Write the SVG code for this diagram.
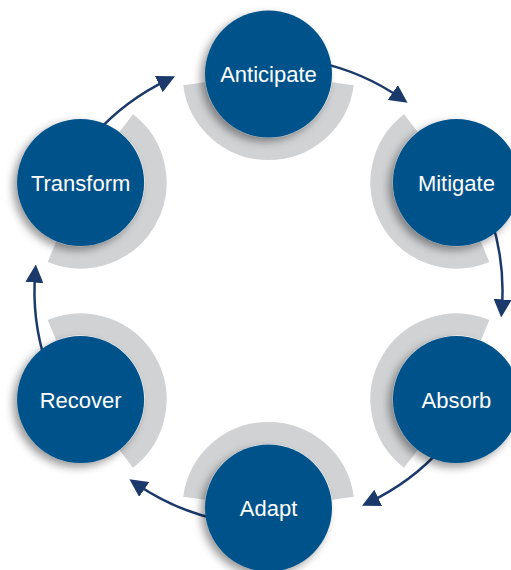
<svg xmlns="http://www.w3.org/2000/svg" width="511" height="570" viewBox="0 0 511 570">
  <style>
    .band { fill: none; stroke: #d1d2d4; stroke-width: 22; stroke-linecap: butt; }
    .disc { fill: #06538a; filter: url(#shadow); }
    .label { fill: #ffffff; font-family: "Liberation Sans", Arial, sans-serif; font-size: 22px; text-anchor: middle; }
    .link { fill: none; stroke: #1b3a6b; stroke-width: 2.5; marker-end: url(#head); }
  </style>
  <defs>
    <filter id="shadow" x="-30%" y="-30%" width="160%" height="160%">
      <feDropShadow dx="-4" dy="4" stdDeviation="4" flood-color="#000" flood-opacity="0.4"/>
    </filter>
    <marker id="head" markerUnits="userSpaceOnUse" markerWidth="18" markerHeight="18" viewBox="0 0 18 18" refX="10" refY="9" orient="auto">
      <path d="M0,0 L18,9 L0,18 Z" fill="#1b3a6b"/>
    </marker>
    <!-- inner half-ring behind each disc, pointing down before rotation -->
    <path id="ring" d="M74.36,9.79 A75,75 0 0 1 -74.36,9.79"/>
  </defs>

  <g id="connectors">
    <path class="link" d="M317.15,62.1 A234,234 0 0 1 401.0,98.2"/>
    <path class="link" d="M491.1,218.7 A234,234 0 0 1 501.8,309.4"/>
    <path class="link" d="M442.4,447.6 A234,234 0 0 1 369.2,502.2"/>
    <path class="link" d="M219.85,519.9 A234,234 0 0 1 136.0,483.8"/>
    <path class="link" d="M45.9,363.3 A234,234 0 0 1 35.2,272.6"/>
    <path class="link" d="M94.6,134.4 A234,234 0 0 1 167.8,79.8"/>
  </g>

  <g id="anticipate" transform="translate(268.5,74)">
    <use href="#ring" class="band" transform="rotate(0)"/>
    <circle class="disc" r="63.5"/>
    <text class="label" y="8">Anticipate</text>
  </g>
  <g id="mitigate" transform="translate(456.4,182.5)">
    <use href="#ring" class="band" transform="rotate(60)"/>
    <circle class="disc" r="63.5"/>
    <text class="label" y="8">Mitigate</text>
  </g>
  <g id="absorb" transform="translate(456.4,399.5)">
    <use href="#ring" class="band" transform="rotate(120)"/>
    <circle class="disc" r="63.5"/>
    <text class="label" y="8">Absorb</text>
  </g>
  <g id="adapt" transform="translate(268.5,508)">
    <use href="#ring" class="band" transform="rotate(180)"/>
    <circle class="disc" r="63.5"/>
    <text class="label" y="8">Adapt</text>
  </g>
  <g id="recover" transform="translate(80.6,399.5)">
    <use href="#ring" class="band" transform="rotate(240)"/>
    <circle class="disc" r="63.5"/>
    <text class="label" y="8">Recover</text>
  </g>
  <g id="transform" transform="translate(80.6,182.5)">
    <use href="#ring" class="band" transform="rotate(300)"/>
    <circle class="disc" r="63.5"/>
    <text class="label" y="8">Transform</text>
  </g>
</svg>
